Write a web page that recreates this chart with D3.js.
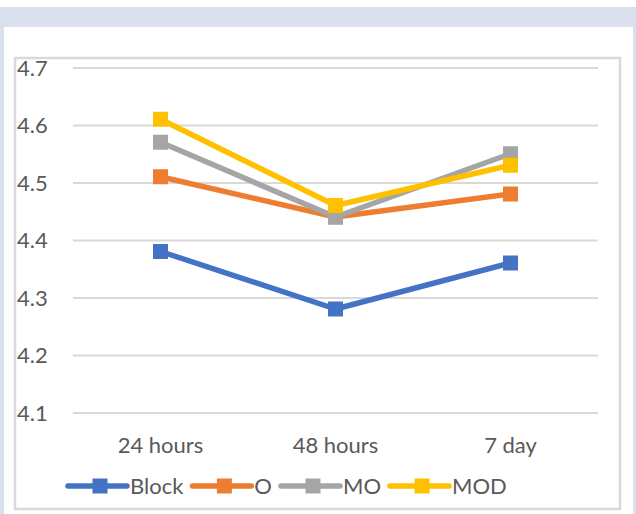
<!DOCTYPE html>
<html>
<head>
<meta charset="utf-8">
<script src="https://cdn.jsdelivr.net/npm/d3@7"></script>
<style>
  html, body { margin: 0; padding: 0; background: #ffffff; }
  svg { display: block; }
  text { font-family: Lato, "Open Sans", sans-serif; fill: #595959; }
</style>
</head>
<body>
<svg id="chart" width="636" height="514"></svg>
<script>
const categories = ["24 hours", "48 hours", "7 day"];
const seriesNames = ["Block", "O", "MO", "MOD"];
const blockValues = [4.38, 4.28, 4.36];
const oValues = [4.51, 4.44, 4.48];
const moValues = [4.57, 4.44, 4.55];
const modValues = [4.61, 4.46, 4.53];
const yTicks = [4.1, 4.2, 4.3, 4.4, 4.5, 4.6, 4.7];
const seriesColors = ["#4472c4", "#ed7d31", "#a5a5a5", "#ffc000"];

const series = [blockValues, oValues, moValues, modValues].map((vals, i) => ({
  name: seriesNames[i], color: seriesColors[i], values: vals
}));

const svg = d3.select("#chart");

// backgrounds
svg.append("rect").attr("x", 0).attr("y", 7).attr("width", 636).attr("height", 507).attr("fill", "#dbe0ee");
svg.append("rect").attr("x", 4).attr("y", 27).attr("width", 629).attr("height", 487).attr("fill", "#ffffff");
// chart border
svg.append("rect").attr("x", 15).attr("y", 58).attr("width", 605).attr("height", 451)
  .attr("fill", "#ffffff").attr("stroke", "#d9d9d9").attr("stroke-width", 2.5);

const x = d3.scaleBand().domain(categories).range([73, 598]);
const y = d3.scaleLinear().domain([4.1, 4.7]).range([412.5, 67.5]);

// gridlines
const yAxis = d3.axisLeft(y).tickValues(yTicks).tickSize(-(598 - 73)).tickFormat(d3.format(".1f"));
const gy = svg.append("g").attr("transform", "translate(73,0)").call(yAxis);
gy.select(".domain").remove();
gy.selectAll(".tick line").attr("stroke", "#d9d9d9").attr("stroke-width", 2);
gy.selectAll(".tick text").attr("x", -56).attr("text-anchor", "start")
  .attr("dy", "0.36em").style("font-size", "22px").attr("fill", "#595959");

// x axis labels
const xAxis = d3.axisBottom(x).tickSize(0).tickPadding(0);
const gx = svg.append("g").attr("transform", "translate(0,412.5)").call(xAxis);
gx.select(".domain").remove();
gx.selectAll(".tick text").attr("y", 40).attr("dy", 0).style("font-size", "22px").attr("fill", "#595959");

const cx = c => x(c) + x.bandwidth() / 2;
const line = d3.line().x((d, i) => cx(categories[i])).y(d => y(d));

const msize = 15;
series.forEach(s => {
  const g = svg.append("g");
  g.append("path").datum(s.values).attr("d", line)
    .attr("fill", "none").attr("stroke", s.color).attr("stroke-width", 5.5)
    .attr("stroke-linejoin", "round");
  g.selectAll("rect").data(s.values).join("rect")
    .attr("x", (d, i) => cx(categories[i]) - msize / 2)
    .attr("y", d => y(d) - msize / 2)
    .attr("width", msize).attr("height", msize)
    .attr("fill", s.color);
});

// legend
const legend = svg.append("g");
let lx = 68;
const ly = 486;
series.forEach(s => {
  const item = legend.append("g");
  item.append("line").attr("x1", lx).attr("x2", lx + 59).attr("y1", ly).attr("y2", ly)
    .attr("stroke", s.color).attr("stroke-width", 5.5).attr("stroke-linecap", "round");
  item.append("rect").attr("x", lx + 30 - msize / 2 + 2).attr("y", ly - msize / 2)
    .attr("width", msize).attr("height", msize).attr("fill", s.color);
  const t = item.append("text").attr("x", lx + 62).attr("y", ly + 8)
    .style("font-size", "22px").text(s.name);
  lx = lx + 62 + t.node().getComputedTextLength() + 9;
});
</script>
</body>
</html>
